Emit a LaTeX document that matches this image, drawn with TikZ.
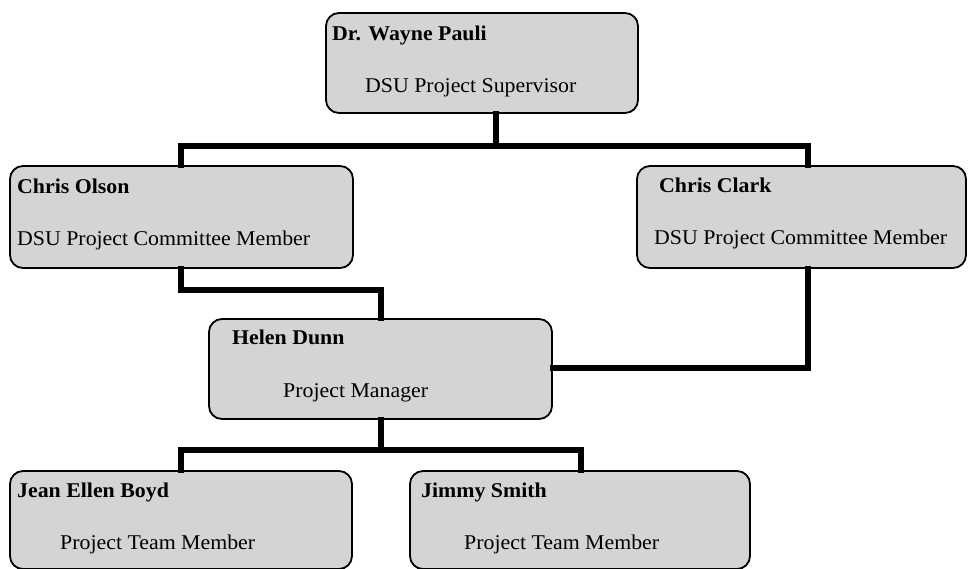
\documentclass[tikz,border=0pt]{standalone}
\usepackage{fontspec}
\setmainfont{Liberation Serif}[FakeStretch=1.04]
\definecolor{boxfill}{RGB}{212,212,212}
\tikzset{
  box/.style={draw=black, line width=1.8pt, fill=boxfill, rounded corners=13pt,
              inner sep=0pt, minimum width=#1},
  conn/.style={draw=black, line width=6pt, line join=miter, line cap=rect},
  lbl/.style={anchor=base west, inner sep=0pt, font=\fontsize{21}{25}\selectfont},
  nm/.style={lbl, font=\fontsize{21}{25}\selectfont\bfseries}
}
\begin{document}
\begin{tikzpicture}[x=1pt,y=-1pt]
\clip (0,0) rectangle (968,568);
\fill[white] (0,0) rectangle (968,568);
% boxes
\node[box=312pt, minimum height=100pt] (pauli) at (482,63) {};
\node[box=343pt, minimum height=102pt] (olson) at (181.5,217) {};
\node[box=329pt, minimum height=102pt] (clark) at (801.5,217) {};
\node[box=343pt, minimum height=100pt] (dunn) at (380.5,369) {};
\node[box=342pt, minimum height=98pt] (boyd) at (181,520) {};
\node[box=340pt, minimum height=98pt] (smith) at (580,520) {};
% junction coordinates
\coordinate (c1M) at (496,146);
\coordinate (c1L) at (181,146);
\coordinate (c1R) at (808,146);
\coordinate (c2a) at (181,290);
\coordinate (c2b) at (381,290);
\coordinate (c3) at (808,368);
\coordinate (c4L) at (181,450);
\coordinate (c4M) at (381,450);
\coordinate (c4R) at (581,450);
% connectors
\draw[conn] (pauli.south -| c1M) -- (c1M);
\draw[conn] (olson.north -| c1L) -- (c1L) -- (c1R) -- (clark.north -| c1R);
\draw[conn] (olson.south -| c2a) -- (c2a) -- (c2b) -- (dunn.north -| c2b);
\draw[conn] (clark.south -| c3) -- (c3) -- (dunn.east |- c3);
\draw[conn] (dunn.south -| c4M) -- (c4M);
\draw[conn] (boyd.north -| c4L) -- (c4L) -- (c4R) -- (smith.north -| c4R);
% texts
\node[nm] (pauliN) at (332,40) {Dr. Wayne Pauli};
\node[lbl] (pauliR) at (365,92) {DSU Project Supervisor};
\node[nm] (olsonN) at (17,193) {Chris Olson};
\node[lbl] (olsonR) at (17,245) {DSU Project Committee Member};
\node[nm] (clarkN) at (659,192) {Chris Clark};
\node[lbl] (clarkR) at (654,244) {DSU Project Committee Member};
\node[nm] (dunnN) at (232,344) {Helen Dunn};
\node[lbl] (dunnR) at (283,397) {Project Manager};
\node[nm] (boydN) at (17,497) {Jean Ellen Boyd};
\node[lbl] (boydR) at (60,549) {Project Team Member};
\node[nm] (smithN) at (421,497) {Jimmy Smith};
\node[lbl] (smithR) at (464,549) {Project Team Member};
\end{tikzpicture}
\end{document}
